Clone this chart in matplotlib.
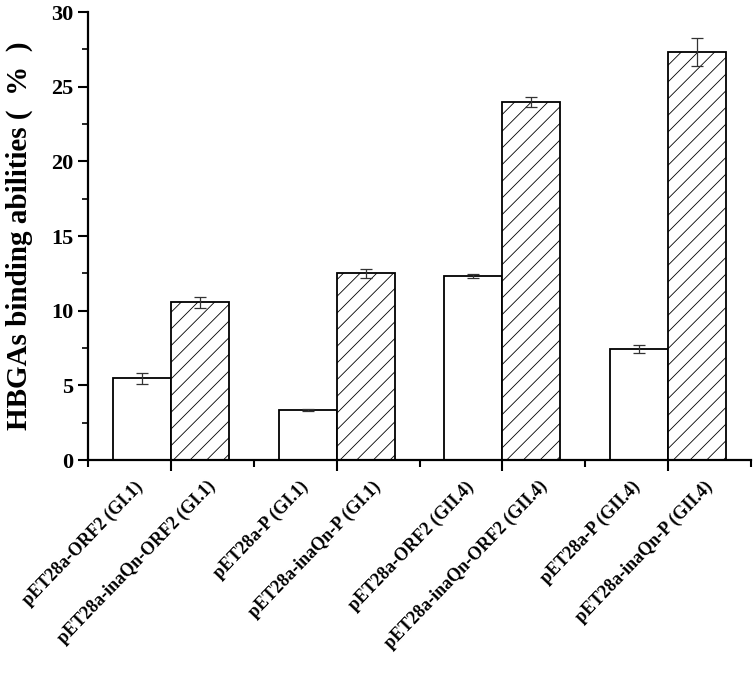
import matplotlib.pyplot as plt
import numpy as np
from matplotlib.ticker import MultipleLocator
from matplotlib.transforms import blended_transform_factory

plt.rcParams['font.family'] = ['Liberation Serif', 'DejaVu Serif']
plt.rcParams['font.weight'] = 'bold'
plt.rcParams['hatch.linewidth'] = 0.6
plt.rcParams['hatch.color'] = '#555555'

labels = ['pET28a-ORF2 (GI.1)', 'pET28a-inaQn-ORF2 (GI.1)',
          'pET28a-P (GI.1)', 'pET28a-inaQn-P (GI.1)',
          'pET28a-ORF2 (GII.4)', 'pET28a-inaQn-ORF2 (GII.4)',
          'pET28a-P (GII.4)', 'pET28a-inaQn-P (GII.4)']
values = [5.47, 10.56, 3.35, 12.52, 12.32, 23.98, 7.42, 27.33]
errors = [0.37, 0.38, 0.08, 0.30, 0.15, 0.32, 0.25, 0.96]
hatched = [False, True, False, True, False, True, False, True]

fig = plt.figure(figsize=(7.56, 6.74), dpi=100)
ax = fig.add_axes([0.1164, 0.3175, 0.877, 0.6645])

w = 0.7
groups = np.array([1, 3, 5, 7])
xs = []
for g in groups:
    xs += [g - w / 2, g + w / 2]
xs = np.array(xs)

for x, v, e, h in zip(xs, values, errors, hatched):
    ax.bar(x, v, width=w, facecolor='white', edgecolor='black', linewidth=1.3,
           hatch='//' if h else None, zorder=2)
    ax.errorbar(x, v, yerr=e, fmt='none', ecolor='#333333', elinewidth=0.9,
                capsize=4.5, capthick=0.9, zorder=3)

ax.set_xlim(0, 8)
ax.set_ylim(0, 30)
ax.spines['top'].set_visible(False)
ax.spines['right'].set_visible(False)
ax.spines['left'].set_linewidth(1.6)
ax.spines['bottom'].set_linewidth(1.6)

ax.yaxis.set_major_locator(MultipleLocator(5))
ax.yaxis.set_minor_locator(MultipleLocator(2.5))
ax.tick_params(axis='y', which='major', length=7, width=1.5, labelsize=16, direction='out')
ax.tick_params(axis='y', which='minor', length=4, width=1.2, direction='out')

ax.set_xticks(groups)
ax.set_xticks([0, 2, 4, 6, 8], minor=True)
ax.set_xticklabels([])
ax.tick_params(axis='x', which='major', length=8, width=1.5, direction='out')
ax.tick_params(axis='x', which='minor', length=5, width=1.5, direction='out')

trans = blended_transform_factory(ax.transData, ax.transAxes)
for x, lab, h in zip(xs, labels, hatched):
    ax.text(x + (0.08 if h else -0.1), -0.04, lab, transform=trans, rotation=46,
            ha='right', va='top', rotation_mode='anchor',
            fontsize=13, fontweight='bold')

ax.set_ylabel('HBGAs binding abilities (  %  )', fontsize=21, fontweight='bold', labelpad=13)

fig.savefig('out.png', dpi=100)
